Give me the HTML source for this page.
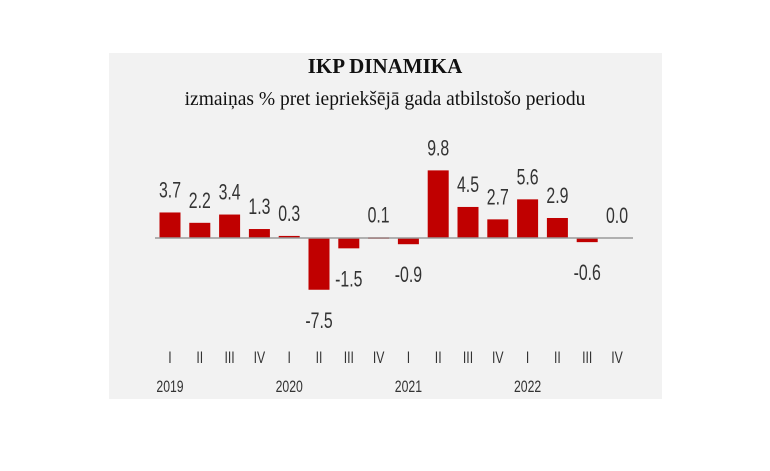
<!DOCTYPE html>
<html><head><meta charset="utf-8"><style>
body{margin:0;background:#fff;width:770px;height:471px;overflow:hidden}
svg{display:block}
.t{font-family:"Liberation Serif",serif;fill:#111}
.n{font-family:"Liberation Sans",sans-serif;fill:#333}
</style></head><body>
<svg width="770" height="471">
<rect x="109" y="53" width="553" height="346" fill="#f2f2f2"/>
<text class="t" x="385" y="73" font-size="21" font-weight="bold" text-anchor="middle">IKP DINAMIKA</text>
<text class="t" x="385" y="105" font-size="19.5" text-anchor="middle">izmaiņas % pret iepriekšējā gada atbilstošo periodu</text>
<g id="bars"></g>
<line x1="155" y1="238" x2="633" y2="238" stroke="#999" stroke-width="1.5"/>
<g id="labels"></g>
</svg>
<script>
const quarters=["I","II","III","IV","I","II","III","IV","I","II","III","IV","I","II","III","IV"];
const values=[3.7,2.2,3.4,1.3,0.3,-7.5,-1.5,0.1,-0.9,9.8,4.5,2.7,5.6,2.9,-0.6,0.0];
const years=["2019","2020","2021","2022"];
const NS="http://www.w3.org/2000/svg";
const x=i=>170+i*29.8;
const y=v=>238-v*6.9;
const bars=document.getElementById('bars'),labels=document.getElementById('labels');
function txt(parent,s,cx,cy,size){
  const t=document.createElementNS(NS,'text');
  t.setAttribute('class','n');
  t.setAttribute('text-anchor','middle');
  t.setAttribute('font-size',size);
  t.setAttribute('transform',`translate(${cx},${cy}) scale(0.72,1)`);
  t.textContent=s;parent.appendChild(t);return t;
}
values.forEach((v,i)=>{
  const r=document.createElementNS(NS,'rect');
  
  
  r.setAttribute('x',x(i)-10.5);r.setAttribute('width',21);
  r.setAttribute('y',Math.min(y(v),y(0)));
  r.setAttribute('height',Math.max(Math.abs(y(v)-y(0)),v===0?0:1.5));
  r.setAttribute('fill','#c00000');
  bars.appendChild(r);
  const ly=v>=0?Math.min(y(v),y(0))-15:y(v)+38;
  const l=txt(labels,v.toFixed(1),x(i),ly,22);
  
  
  const q=txt(labels,quarters[i],x(i),363,17);
  
  
});
years.forEach((yr,k)=>{
  const t=txt(labels,yr,x(k*4),392,17);
  
  
});
</script>
</body></html>
